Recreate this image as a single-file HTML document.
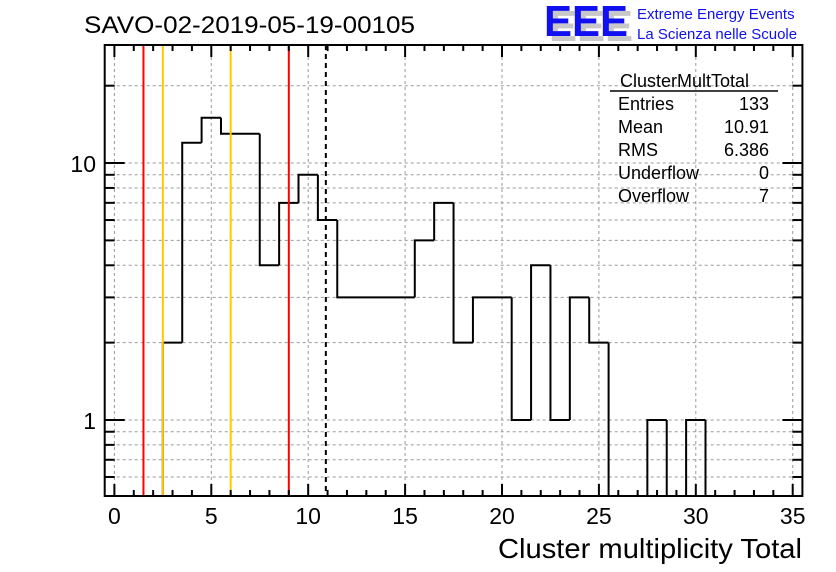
<!DOCTYPE html>
<html><head><meta charset="utf-8"><style>
body{margin:0;background:#fff;}
svg{display:block;font-family:"Liberation Sans",Arial,sans-serif;}
</style></head><body>
<svg id="chart" width="836" height="572" viewBox="0 0 836 572" xmlns="http://www.w3.org/2000/svg">
<rect width="836" height="572" fill="#fff"/>
<text x="84" y="33" font-size="24" textLength="331" lengthAdjust="spacingAndGlyphs">SAVO-02-2019-05-19-00105</text>
<g>
<text x="549" y="41" font-size="44" font-weight="bold" fill="#c8c8c8" textLength="84" lengthAdjust="spacingAndGlyphs">EEE</text>
<text x="544" y="36" font-size="44" font-weight="bold" fill="#1010f0" textLength="84" lengthAdjust="spacingAndGlyphs">EEE</text>
<text x="637" y="19" font-size="15" fill="#1010f0">Extreme Energy Events</text>
<text x="637" y="39" font-size="15" fill="#1010f0">La Scienza nelle Scuole</text>
</g>
<g id="grid"></g>
<g id="marks"></g>
<g id="stats">
<text x="620" y="87" font-size="18">ClusterMultTotal</text>
<line x1="610" y1="91" x2="778" y2="91" stroke="#000" stroke-width="1.5"/>
<text x="618" y="110" font-size="18">Entries</text><text x="769" y="110" font-size="18" text-anchor="end">133</text>
<text x="618" y="133" font-size="18">Mean</text><text x="769" y="133" font-size="18" text-anchor="end">10.91</text>
<text x="618" y="156" font-size="18">RMS</text><text x="769" y="156" font-size="18" text-anchor="end">6.386</text>
<text x="618" y="179" font-size="18">Underflow</text><text x="769" y="179" font-size="18" text-anchor="end">0</text>
<text x="618" y="202" font-size="18">Overflow</text><text x="769" y="202" font-size="18" text-anchor="end">7</text>
</g>
<g id="axes"></g>
<text x="498" y="558" font-size="28" textLength="304" lengthAdjust="spacingAndGlyphs">Cluster multiplicity Total</text>
</svg>
<script>
const binCenters=[2,3,4,5,6,7,8,9,10,11,12,13,14,15,16,17,18,19,20,21,22,23,24,25,26,27,28,29,30];
const counts=[0,2,12,15,13,13,4,7,9,6,3,3,3,3,5,7,2,3,3,1,4,1,3,2,0,0,1,0,1];
const xTicks=[0,5,10,15,20,25,30,35];
const yTicks=[1,10];
const redLines=[1.5,9.0];
const orangeLines=[2.5,6.0];
const meanLine=[10.91];

const L=104.7,R=802.4,T=45,B=496,X0=-0.5,X1=35.5,YMIN=0.506,YMAX=28.8;
const sx=v=>L+(v-X0)/(X1-X0)*(R-L);
const sy=v=>B-(Math.log10(v)-Math.log10(YMIN))/(Math.log10(YMAX)-Math.log10(YMIN))*(B-T);
const NS='http://www.w3.org/2000/svg';
function mk(parent,tag,attrs){const e=document.createElementNS(NS,tag);for(const k in attrs)e.setAttribute(k,attrs[k]);parent.appendChild(e);return e;}
const grid=document.getElementById('grid'),marks=document.getElementById('marks'),axes=document.getElementById('axes');
xTicks.forEach(v=>{const l=mk(grid,'line',{x1:sx(v),x2:sx(v),y1:T,y2:B,stroke:'#999','stroke-dasharray':'3,3','stroke-width':1});
});
const minorY=[];for(let d=0.1;d<=10;d*=10)for(let m=1;m<=9;m++){const v=m*d;if(v>=YMIN&&v<=YMAX)minorY.push(v);}
minorY.forEach(v=>{const l=mk(grid,'line',{x1:L,x2:R,y1:sy(v),y2:sy(v),stroke:'#999','stroke-dasharray':'3,3','stroke-width':1});
});
let d='';
const clampY=v=>v>0?sy(v):B;
for(let i=0;i<counts.length;i++){
  const c=binCenters[i],x0=sx(c-0.5),x1=sx(c+0.5),y=clampY(counts[i]);
  const prev=i>0?clampY(counts[i-1]):B;
  d+=`M${x0},${prev}L${x0},${y}L${x1},${y}`;
}
const lastC=binCenters[binCenters.length-1];
d+=`M${sx(lastC+0.5)},${clampY(counts[counts.length-1])}L${sx(lastC+0.5)},${B}`;
const h=mk(marks,'path',{d:d,fill:'none',stroke:'#000','stroke-width':2});

redLines.forEach(v=>{const l=mk(marks,'line',{x1:sx(v),x2:sx(v),y1:T,y2:B,stroke:'#f00','stroke-width':2});
});
orangeLines.forEach(v=>{const l=mk(marks,'line',{x1:sx(v),x2:sx(v),y1:T,y2:B,stroke:'#ffc800','stroke-width':2});
});
meanLine.forEach(v=>{const l=mk(marks,'line',{x1:sx(v),x2:sx(v),y1:T,y2:B,stroke:'#000','stroke-width':2,'stroke-dasharray':'5,4'});
});
const f=mk(axes,'rect',{x:L,y:T,width:R-L,height:B-T,fill:'none',stroke:'#000','stroke-width':2});

for(let v=0;v<=35;v++){const len=v%5===0?12:6;
  const a=mk(axes,'line',{x1:sx(v),x2:sx(v),y1:B,y2:B-len,stroke:'#000','stroke-width':2});
  
  const b=mk(axes,'line',{x1:sx(v),x2:sx(v),y1:T,y2:T+len,stroke:'#000','stroke-width':2});
  }
xTicks.forEach(v=>{const t=mk(axes,'text',{x:sx(v),y:524,'font-size':23,'text-anchor':'middle'});t.textContent=v;
});
minorY.forEach(v=>{const len=yTicks.includes(Math.round(v*1000)/1000)?20:10;
  const a=mk(axes,'line',{x1:L,x2:L+len,y1:sy(v),y2:sy(v),stroke:'#000','stroke-width':2});
  
  const b=mk(axes,'line',{x1:R,x2:R-len,y1:sy(v),y2:sy(v),stroke:'#000','stroke-width':2});
  });
yTicks.forEach(v=>{const t=mk(axes,'text',{x:96,y:sy(v)+9,'font-size':23,'text-anchor':'end'});t.textContent=v;
});
</script>
</body></html>
